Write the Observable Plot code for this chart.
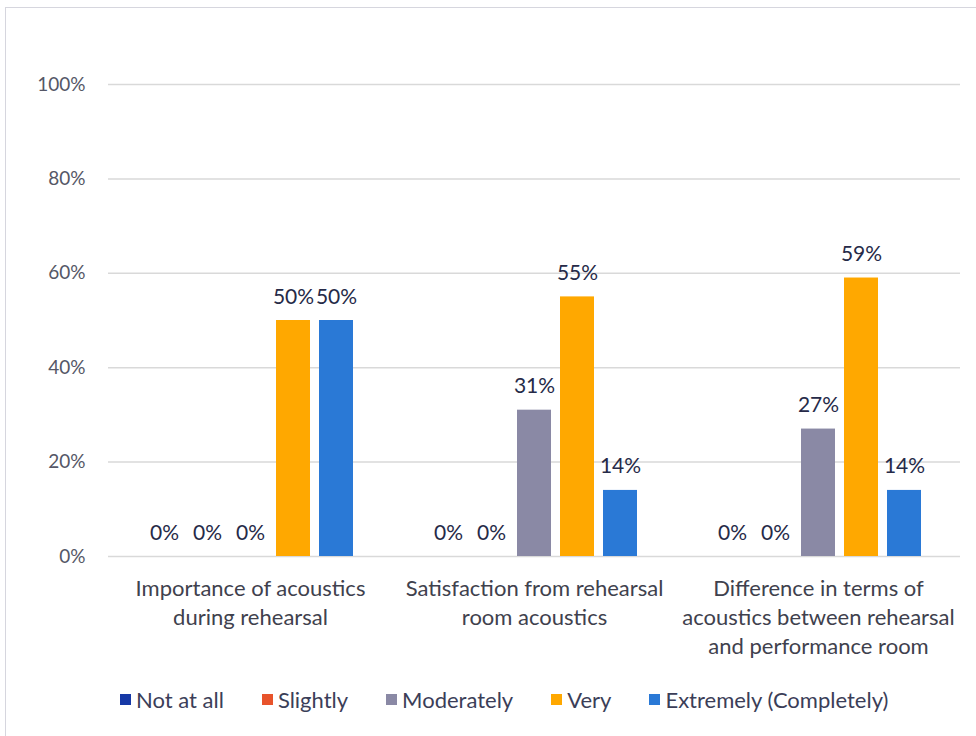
<!DOCTYPE html>
<html>
<head>
<meta charset="utf-8">
<script src="https://cdn.jsdelivr.net/npm/d3@7"></script>
<script src="https://cdn.jsdelivr.net/npm/@observablehq/plot@0.6"></script>
<style>
  html, body { margin: 0; padding: 0; background: #fff; }
  body { width: 976px; height: 736px; overflow: hidden; position: relative; font-family: Lato, "Noto Sans", sans-serif; }
  #frame {
    position: absolute; left: 5px; top: 7px; width: 1000px; height: 760px;
    border: 1px solid #d6d6de; box-sizing: border-box; background: #fff;
  }
  #chart svg { display: block; }
  #legend {
    display: flex; align-items: center; margin-top: 18px; padding-left: 114px;
    font-size: 22px; color: #3b3e58; white-space: nowrap;
  }
  #legend .item { display: flex; align-items: center; margin-right: 38px; }
  #legend .swatch { width: 11px; height: 11px; margin-right: 5px; }
</style>
</head>
<body>
<div id="frame">
  <div id="chart"></div>
  <div id="legend"></div>
</div>
<script>
// Survey questions (x groups) and their wrapped labels
const categories = [
  "Importance of acoustics during rehearsal",
  "Satisfaction from rehearsal room acoustics",
  "Difference in terms of acoustics between rehearsal and performance room"
];
const categoryLabels = [
  "Importance of acoustics\nduring rehearsal",
  "Satisfaction from rehearsal\nroom acoustics",
  "Difference in terms of\nacoustics between rehearsal\nand performance room"
];

// Response levels
const series = ["Not at all", "Slightly", "Moderately", "Very", "Extremely (Completely)"];
const seriesColors = ["#1639a6", "#e8532b", "#8a89a5", "#ffa800", "#2a79d6"];

// Share of answers (%) per question, in the order of the response levels
const importance = [0, 0, 0, 50, 50];
const satisfaction = [0, 0, 31, 55, 14];
const difference = [0, 0, 27, 59, 14];

// Y-axis ticks (%)
const yTicks = [0, 20, 40, 60, 80, 100];

const valuesByCategory = [importance, satisfaction, difference];
const rows = categories.flatMap((c, i) =>
  series.map((s, j) => ({ category: c, series: s, value: valuesByCategory[i][j] }))
);
const labelOf = new Map(categories.map((c, i) => [c, categoryLabels[i]]));

const chart = Plot.plot({
  width: 970,
  height: 660,
  marginLeft: 101,
  marginRight: 16,
  marginTop: 76,
  marginBottom: 112,
  style: { fontFamily: "Lato, 'Noto Sans', sans-serif", fontSize: "18px", background: "transparent" },
  fx: { domain: categories, padding: 0, axis: null },
  x: { domain: series, paddingInner: 0.2, paddingOuter: 0.83, axis: null },
  y: { domain: [0, 100], axis: null },
  color: { domain: series, range: seriesColors },
  marks: [
    Plot.gridY(yTicks, { stroke: "#d9d9d9", strokeOpacity: 1, strokeWidth: 1.5 }),
    Plot.axisY(yTicks, {
      tickSize: 0, tickPadding: 23, tickFormat: d => d + "%", label: null,
      fontSize: 19, fill: "#555766"
    }),
    Plot.barY(rows, { fx: "category", x: "series", y: "value", fill: "series" }),
    Plot.text(rows, {
      fx: "category", x: "series", y: "value",
      text: d => d.value + "%", lineAnchor: "bottom", dy: -17,
      fontSize: 21, fill: "#262a48"
    }),
    Plot.text(categories, {
      fx: d => d, text: d => labelOf.get(d),
      frameAnchor: "bottom", lineAnchor: "top", dy: 19, lineHeight: 1.32,
      fontSize: 22, fill: "#40414d"
    })
  ]
});
document.getElementById("chart").append(chart);

// Legend row
const legend = d3.select("#legend");
series.forEach((s, i) => {
  const item = legend.append("div").attr("class", "item");
  item.append("div").attr("class", "swatch").style("background", seriesColors[i]);
  item.append("span").text(s);
});
</script>
</body>
</html>
